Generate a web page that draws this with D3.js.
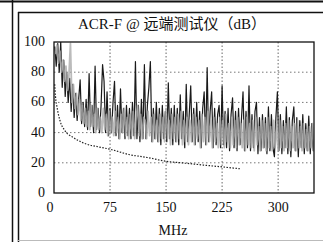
<!DOCTYPE html>
<html>
<head>
    <meta charset="utf-8">
    <title>ACR-F</title>
    <script src="https://d3js.org/d3.v7.min.js"></script>
    <style>
        body { margin: 0; background: #fff; }
        text { font-family: "Liberation Serif", "Noto Sans CJK SC", serif; fill: #111; }
    </style>
</head>
<body>
    <div id="chart"></div>
    <script>
        // sweep: first point and step in MHz (gray pair sampled in between)
        const blackStart = 1, grayStart = 2, fStep = 2;

        // pair (black) trace, dB
        const blackVals = [
            97, 84, 99, 80, 100, 70, 88, 64, 80, 60,
            76, 54, 72, 50, 66, 48, 62, 75, 46, 60,
            44, 62, 42, 79, 44, 58, 40, 84, 42, 56,
            40, 58, 85, 74, 40, 67, 38, 56, 40, 60,
            74, 38, 58, 36, 69, 40, 56, 36, 58, 38,
            56, 36, 60, 38, 87, 36, 58, 34, 62, 36,
            85, 36, 58, 70, 87, 34, 56, 36, 60, 34,
            56, 32, 58, 36, 54, 34, 73, 36, 56, 32,
            58, 34, 56, 32, 65, 36, 54, 30, 72, 34,
            52, 71, 34, 56, 32, 60, 34, 54, 30, 56,
            67, 32, 83, 34, 54, 67, 30, 56, 32, 52,
            58, 30, 71, 32, 54, 30, 56, 28, 52, 63,
            30, 54, 28, 56, 32, 50, 67, 28, 54, 30,
            71, 28, 52, 30, 54, 60, 26, 50, 28, 52,
            30, 50, 26, 57, 28, 52, 30, 24, 50, 67,
            28, 52, 26, 48, 30, 57, 26, 50, 24, 48,
            57, 28, 50, 24, 48, 30, 52, 26, 46, 28,
            51, 26, 46, 28, 40
        ];

        // pair (gray) trace, dB
        const grayVals = [
            92, 98, 86, 94, 80, 88, 74, 84, 68, 78,
            99, 60, 72, 56, 66, 52, 62, 48, 58, 46,
            56, 44, 54, 42, 58, 44, 52, 40, 56, 42,
            50, 40, 56, 42, 52, 38, 54, 40, 50, 38,
            54, 40, 50, 36, 52, 40, 56, 38, 50, 36,
            52, 38, 54, 36, 50, 58, 38, 52, 36, 50,
            48, 36, 54, 38, 50, 34, 52, 36, 48, 34,
            52, 36, 50, 34, 56, 36, 48, 32, 52, 36,
            50, 34, 52, 36, 54, 32, 48, 34, 50, 32,
            48, 34, 52, 32, 50, 36, 48, 30, 52, 34,
            50, 32, 54, 34, 48, 30, 50, 34, 46, 30,
            50, 32, 48, 30, 52, 34, 46, 30, 50, 32,
            48, 30, 50, 32, 46, 30, 48, 28, 50, 32,
            46, 30, 48, 28, 50, 32, 44, 28, 48, 30,
            46, 28, 50, 30, 44, 28, 48, 30, 46, 28,
            48, 30, 44, 28, 46, 30, 48, 28, 44, 30,
            46, 28, 48, 30, 44, 28, 46, 30, 42, 28,
            44, 30, 46, 28, 40
        ];

        // limit line
        const limitFreq = [1, 2, 4, 8, 15, 25, 40, 60, 75, 100, 125, 150, 175, 200, 225, 250];
        const limitVals = [72, 64, 57, 48, 41, 37, 33, 30.5, 29, 25.5, 23.5, 21, 19.8, 18.5, 17.3, 16];

        const yTicks = [0, 20, 40, 60, 80, 100];
        const xTicks = [0, 75, 150, 225, 300];
        const gridY = [20, 40, 60, 80];
        const gridX = [75, 150, 225, 300];

        const W = 323, H = 242;
        const plot = { left: 54, right: 314, top: 42, bottom: 193 };

        const svg = d3.select("#chart")
            .append("svg")
            .attr("width", W)
            .attr("height", H);

        // scanned page frame lines
        svg.append("line").attr("x1", 0).attr("x2", W).attr("y1", 1.5).attr("y2", 1.5)
            .attr("stroke", "#111").attr("stroke-width", 2);
        svg.append("line").attr("x1", 18).attr("x2", W).attr("y1", 12.5).attr("y2", 12.5)
            .attr("stroke", "#111").attr("stroke-width", 1.3);
        svg.append("line").attr("x1", 12.5).attr("x2", 12.5).attr("y1", 0).attr("y2", H)
            .attr("stroke", "#111").attr("stroke-width", 1.5);
        svg.append("line").attr("x1", 18.5).attr("x2", 18.5).attr("y1", 12).attr("y2", H)
            .attr("stroke", "#111").attr("stroke-width", 1.5);
        svg.append("line").attr("x1", 18).attr("x2", W).attr("y1", 240.5).attr("y2", 240.5)
            .attr("stroke", "#bbb").attr("stroke-width", 1);

        const x = d3.scaleLinear().domain([0, 348]).range([plot.left, plot.right]);
        const y = d3.scaleLinear().domain([0, 100]).range([plot.bottom, plot.top]);

        svg.append("clipPath").attr("id", "clip")
            .append("rect")
            .attr("x", plot.left).attr("y", plot.top)
            .attr("width", plot.right - plot.left).attr("height", plot.bottom - plot.top);

        // grid
        svg.append("g").selectAll("line")
            .data(gridY)
            .join("line")
            .attr("x1", plot.left).attr("x2", plot.right)
            .attr("y1", d => y(d)).attr("y2", d => y(d))
            .attr("stroke", "#777").attr("stroke-width", 1)
            .attr("stroke-dasharray", "1.5,2.5");
        svg.append("g").selectAll("line")
            .data(gridX)
            .join("line")
            .attr("x1", d => x(d)).attr("x2", d => x(d))
            .attr("y1", plot.top).attr("y2", plot.bottom)
            .attr("stroke", "#666").attr("stroke-width", 1)
            .attr("stroke-dasharray", "1.5,2");

        const data = (vals, f0) => vals.map((v, i) => [f0 + i * fStep, v]);
        const line = d3.line().x(d => x(d[0])).y(d => y(d[1]));

        const traces = svg.append("g").attr("clip-path", "url(#clip)");

        traces.append("path")
            .datum(data(blackVals, blackStart))
            .attr("d", line)
            .attr("fill", "none")
            .attr("stroke", "#1a1a1a")
            .attr("stroke-width", 1.2)
            .attr("stroke-linejoin", "round");

        // gray pair drawn over the black one, partly see-through like the scan
        traces.append("path")
            .datum(data(grayVals, grayStart))
            .attr("d", line)
            .attr("fill", "none")
            .attr("stroke", "#aaaaaa")
            .attr("stroke-opacity", 0.8)
            .attr("stroke-width", 1.8)
            .attr("stroke-linejoin", "round");

        traces.append("path")
            .datum(limitFreq.map((f, i) => [f, limitVals[i]]))
            .attr("d", d3.line().x(d => x(d[0])).y(d => y(d[1])).curve(d3.curveMonotoneX))
            .attr("fill", "none")
            .attr("stroke", "#222")
            .attr("stroke-width", 1.2)
            .attr("stroke-dasharray", "1.5,1.5");

        // plot frame
        svg.append("rect")
            .attr("x", plot.left).attr("y", plot.top)
            .attr("width", plot.right - plot.left).attr("height", plot.bottom - plot.top)
            .attr("fill", "none")
            .attr("stroke", "#111")
            .attr("stroke-width", 1.3);

        // labels
        svg.append("g").selectAll("text")
            .data(yTicks)
            .join("text")
            .attr("x", 45)
            .attr("y", d => y(d) + 4)
            .attr("text-anchor", "end")
            .style("font-size", "14px")
            .text(d => d);

        svg.append("g").selectAll("text")
            .data(xTicks)
            .join("text")
            .attr("x", d => x(d) - (d === 0 ? 4 : 0))
            .attr("y", 212)
            .attr("text-anchor", "middle")
            .style("font-size", "14px")
            .text(d => d);

        svg.append("text")
            .attr("x", 173)
            .attr("y", 235)
            .attr("text-anchor", "middle")
            .style("font-size", "14px")
            .text("MHz");

        svg.append("text")
            .attr("x", 172)
            .attr("y", 29)
            .attr("text-anchor", "middle")
            .style("font-size", "15px")
            .text("ACR-F @ 远端测试仪（dB）");
    </script>
</body>
</html>
